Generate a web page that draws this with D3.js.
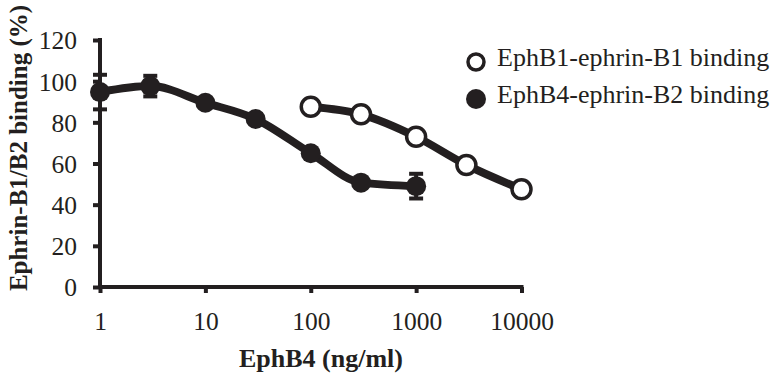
<!DOCTYPE html>
<html>
<head>
<meta charset="utf-8">
<script src="https://cdn.jsdelivr.net/npm/d3@7"></script>
<style>
  body { margin: 0; background: #fff; }
  text { font-family: "Liberation Serif", "Times New Roman", serif; fill: #231f20; }
</style>
</head>
<body>
<div id="chart"></div>
<script>
// Data
var xTicks = [1, 10, 100, 1000, 10000];
var yTicks = [0, 20, 40, 60, 80, 100, 120];

var b1Conc = [100, 300, 1000, 3000, 10000];
var b1Binding = [87.6, 83.9, 73, 59.3, 47.5];

var b4Conc = [1, 3, 10, 30, 100, 300, 1000];
var b4Binding = [94.7, 97.6, 89.5, 81.6, 65, 50.7, 49];
var b4Error = [8.4, 5, 0, 0, 0, 0, 6];

var seriesNames = ["EphB1-ephrin-B1 binding", "EphB4-ephrin-B2 binding"];

var svgWidth = 772;
var svgHeight = 382;
var ink = "#231f20";

var svg = d3.select("#chart")
    .append("svg")
    .attr("width", svgWidth)
    .attr("height", svgHeight);

// scales
var x = d3.scaleLog()
    .domain([1, 10000])
    .range([100, 521.5]);

var y = d3.scaleLinear()
    .domain([0, 120])
    .range([287, 40]);

// axes
var xAxis = svg.append("g")
    .attr("transform", `translate(0, ${y(0)})`)
    .call(d3.axisBottom(x).tickValues(xTicks).tickFormat(d3.format("d")).tickSize(6).tickPadding(19));

var yAxis = svg.append("g")
    .attr("transform", `translate(${x(1)}, 0)`)
    .call(d3.axisLeft(y).tickValues(yTicks).tickSize(7).tickPadding(16));

[xAxis, yAxis].forEach(a => {
    a.select(".domain").attr("stroke", ink).attr("stroke-width", 4)
        .attr("d", a === xAxis ? `M${x(1) - 2},0H${x(10000) + 2}` : `M0,${y(0) + 2}V${y(120) - 2}`);
    a.selectAll(".tick line").attr("stroke", ink).attr("stroke-width", 4);
    a.selectAll(".tick text")
        .style("font-family", "'Liberation Serif', 'Times New Roman', serif")
        .attr("font-size", "25.5px")
        .attr("fill", ink);
});
yAxis.selectAll(".tick text").attr("dy", "0.35em");

var line = d3.line()
    .x(d => x(d[0]))
    .y(d => y(d[1]))
    .curve(d3.curveMonotoneX);

// EphB4 series (filled)
var b4 = b4Conc.map((c, i) => [c, b4Binding[i], b4Error[i]]);
svg.append("path")
    .datum(b4)
    .attr("d", line)
    .attr("fill", "none")
    .attr("stroke", ink)
    .attr("stroke-width", 8)
    .attr("stroke-linejoin", "round");

var errs = svg.append("g").selectAll("g")
    .data(b4.filter(d => d[2] > 0))
    .enter()
    .append("g")
    .attr("stroke", ink)
    .attr("stroke-width", 4);
errs.append("line")
    .attr("x1", d => x(d[0])).attr("x2", d => x(d[0]))
    .attr("y1", d => y(d[1] + d[2])).attr("y2", d => y(d[1] - d[2]));
errs.append("line")
    .attr("x1", d => x(d[0]) - 7).attr("x2", d => x(d[0]) + 7)
    .attr("y1", d => y(d[1] + d[2])).attr("y2", d => y(d[1] + d[2]));
errs.append("line")
    .attr("x1", d => x(d[0]) - 7).attr("x2", d => x(d[0]) + 7)
    .attr("y1", d => y(d[1] - d[2])).attr("y2", d => y(d[1] - d[2]));

svg.append("g").selectAll("circle")
    .data(b4)
    .enter()
    .append("circle")
    .attr("cx", d => x(d[0]))
    .attr("cy", d => y(d[1]))
    .attr("r", 10)
    .attr("fill", ink);

// EphB1 series (open)
var b1 = b1Conc.map((c, i) => [c, b1Binding[i]]);
svg.append("path")
    .datum(b1)
    .attr("d", line)
    .attr("fill", "none")
    .attr("stroke", ink)
    .attr("stroke-width", 8)
    .attr("stroke-linejoin", "round");

svg.append("g").selectAll("circle")
    .data(b1)
    .enter()
    .append("circle")
    .attr("cx", d => x(d[0]))
    .attr("cy", d => y(d[1]))
    .attr("r", 9.5)
    .attr("fill", "#fff")
    .attr("stroke", ink)
    .attr("stroke-width", 3.5);

// legend
var legend = svg.append("g");
seriesNames.forEach((name, i) => {
    var ly = 62 + i * 37;
    legend.append("circle")
        .attr("cx", 476)
        .attr("cy", ly)
        .attr("r", i === 0 ? 8 : 10)
        .attr("fill", i === 0 ? "#fff" : ink)
        .attr("stroke", i === 0 ? ink : "none")
        .attr("stroke-width", 3.5);
    legend.append("text")
        .attr("x", 497)
        .attr("y", ly + 4)
        .attr("font-size", "26px")
        .text(name);
});

// axis titles
svg.append("text")
    .attr("x", 321)
    .attr("y", 367)
    .attr("text-anchor", "middle")
    .attr("font-size", "26px")
    .attr("font-weight", "bold")
    .text("EphB4 (ng/ml)");

svg.append("text")
    .attr("transform", "translate(27, 148) rotate(-90)")
    .attr("text-anchor", "middle")
    .attr("font-size", "25px")
    .attr("font-weight", "bold")
    .text("Ephrin-B1/B2 binding (%)");
</script>
</body>
</html>
